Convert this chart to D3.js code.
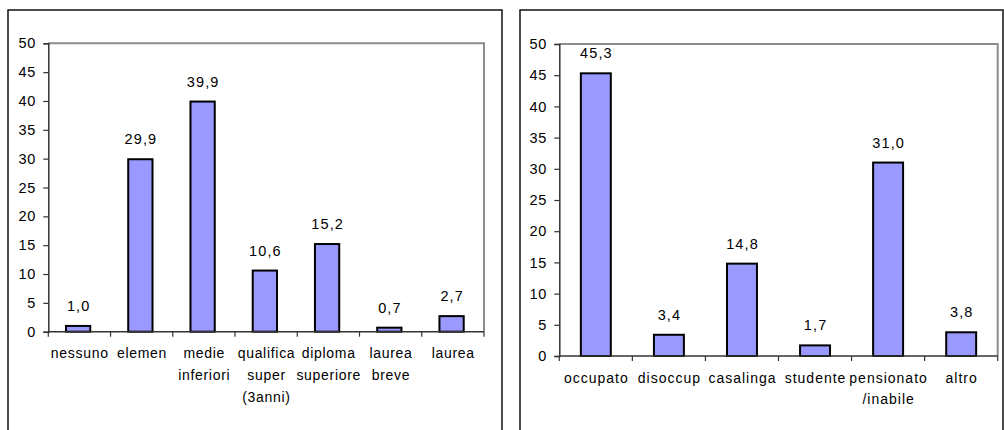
<!DOCTYPE html>
<html>
<head>
<meta charset="utf-8">
<script src="https://cdn.jsdelivr.net/npm/d3@7"></script>
<style>
html,body{margin:0;padding:0;background:#fff;}
svg{display:block;}
</style>
</head>
<body>
<svg id="c" width="1004" height="430" font-family='"Liberation Sans",Arial,sans-serif' font-size="14"></svg>
<script>
// Left chart: titolo di studio
const catsLeft = [["nessuno"],["elemen"],["medie","inferiori"],["qualifica","super","(3anni)"],["diploma","superiore"],["laurea","breve"],["laurea"]];
const valsLeft = [1.0, 29.9, 39.9, 10.6, 15.2, 0.7, 2.7];
// Right chart: condizione professionale
const catsRight = [["occupato"],["disoccup"],["casalinga"],["studente"],["pensionato","/inabile"],["altro"]];
const valsRight = [45.3, 3.4, 14.8, 1.7, 31.0, 3.8];
const yTicks = [0,5,10,15,20,25,30,35,40,45,50];

const svg = d3.select("#c");
const fmt = v => v.toFixed(1).replace(".", ",");
const FONT = '"Liberation Sans",Arial,sans-serif';

function drawChart(cfg) {
  const g = svg.append("g");
  // outer frame
  g.append("rect").attr("x", cfg.frame[0]).attr("y", cfg.frame[1])
    .attr("width", cfg.frame[2]).attr("height", cfg.frame[3])
    .attr("fill", "none").attr("stroke", "#111").attr("stroke-width", 1.5);

  const x = d3.scaleBand().domain(cfg.cats.map((d, i) => i))
    .range([cfg.x0, cfg.x1]).paddingInner(cfg.pad).paddingOuter(cfg.pad / 2);
  const xs = d3.scaleBand().domain(cfg.cats.map((d, i) => i)).range([cfg.x0, cfg.x1]);
  const y = d3.scaleLinear().domain([0, 50]).range([cfg.y0, cfg.y1]);

  // plot area border (gray, top & right)
  g.append("path")
    .attr("d", `M${cfg.x0},${cfg.y1}H${cfg.x1}V${cfg.y0}`)
    .attr("fill", "none").attr("stroke", "#8c8c8c").attr("stroke-width", 2);

  // y axis
  const ya = d3.axisLeft(y).tickValues(yTicks).tickSize(5).tickPadding(8).tickFormat(d3.format("d"));
  const yg = g.append("g").attr("transform", `translate(${cfg.x0},0)`).call(ya)
    .attr("font-size", 14.5).attr("font-family", FONT);
  yg.select(".domain").attr("stroke", "#333").attr("stroke-width", 1.5);
  yg.selectAll(".tick line").attr("stroke", "#333").attr("stroke-width", 1.2);
  yg.selectAll("text").attr("fill", "#000").attr("letter-spacing", 0.8).attr("dx", 0.8);

  // bars
  g.selectAll(".bar").data(cfg.vals).enter().append("rect")
    .attr("x", (d, i) => x(i) + cfg.shift)
    .attr("y", d => y(d))
    .attr("width", x.bandwidth())
    .attr("height", d => y(0) - y(d))
    .attr("fill", "#9999ff").attr("stroke", "#000").attr("stroke-width", 2);

  // x axis line & ticks at category boundaries
  g.append("line").attr("x1", cfg.x0).attr("x2", cfg.x1).attr("y1", y(0)).attr("y2", y(0))
    .attr("stroke", "#333").attr("stroke-width", 1.5);
  const bounds = cfg.cats.map((d, i) => xs(i)).concat([cfg.x1]);
  g.selectAll(".xt").data(bounds).enter().append("line")
    .attr("x1", d => d).attr("x2", d => d).attr("y1", y(0)).attr("y2", y(0) + 5)
    .attr("stroke", "#333").attr("stroke-width", 1.2);

  // category labels
  cfg.cats.forEach((lines, i) => {
    const cx = xs(i) + xs.bandwidth() / 2 + cfg.ls / 2;
    const t = g.append("text").attr("text-anchor", "middle")
      .attr("font-size", 14)
      .attr("letter-spacing", cfg.ls)
      .attr("x", cx).attr("y", y(0) + cfg.lab0);
    lines.forEach((l, j) => {
      t.append("tspan").attr("x", cx).attr("dy", j === 0 ? 0 : cfg.lh).text(l);
    });
  });

  // value labels
  g.selectAll(".vl").data(cfg.vals).enter().append("text")
    .attr("text-anchor", "middle")
    .attr("font-size", 14.5)
    .attr("letter-spacing", 1.1)
    .attr("x", (d, i) => x(i) + cfg.shift + x.bandwidth() / 2 + 0.55)
    .attr("y", d => y(d) - 15)
    .text(d => fmt(d));
}

drawChart({frame: [8, 10, 494, 440], cats: catsLeft, vals: valsLeft,
  x0: 48.3, x1: 484, y0: 331.7, y1: 43.3, pad: 0.61, shift: -1.3, lab0: 26, lh: 22, ls: 0.7});
drawChart({frame: [520, 10, 483, 440], cats: catsRight, vals: valsRight,
  x0: 559.3, x1: 997.7, y0: 356, y1: 44, pad: 0.59, shift: 0, lab0: 27, lh: 21, ls: 1});
</script>
</body>
</html>
